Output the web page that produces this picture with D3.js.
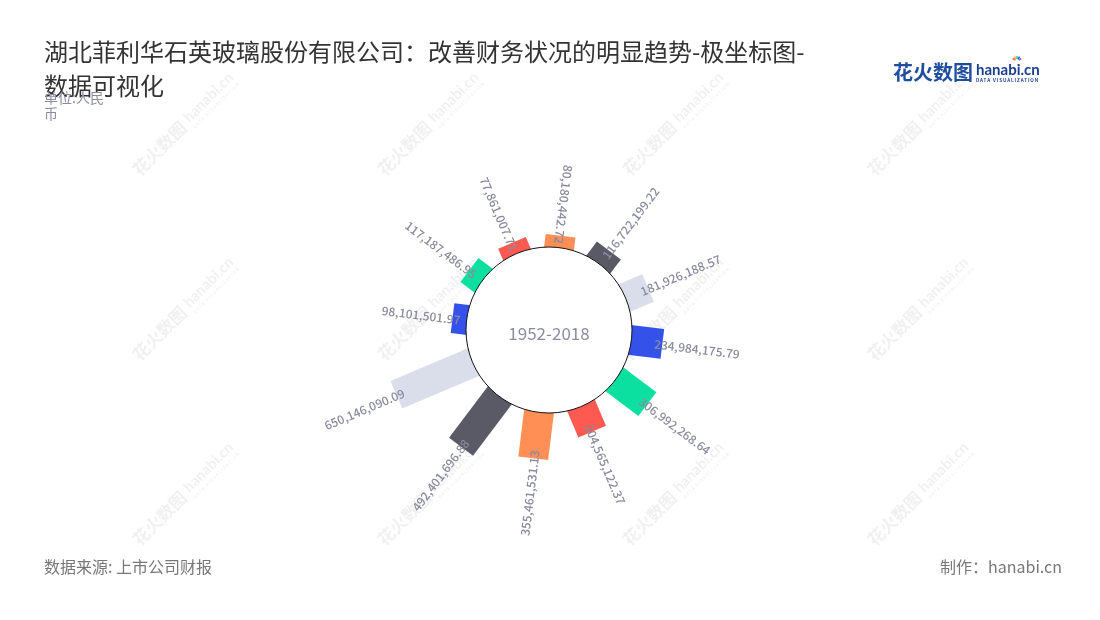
<!DOCTYPE html>
<html><head><meta charset="utf-8">
<script src="https://cdn.jsdelivr.net/npm/d3@7"></script>
<style>body{margin:0;background:#fff} svg{display:block;font-family:"Noto Sans CJK SC","Noto Sans",sans-serif}</style>
</head><body><svg id="c" width="1100" height="620"></svg>
<script>
// ---- data ----
const categories = ['1','2','3','4','5','6','7','8','9','10','11','12'];
const values = [77861007.71, 80180442.72, 116722199.22, 181926188.57, 234984175.79, 306992268.64,
                204565122.37, 355461531.13, 492401696.88, 650146090.09, 98101501.97, 117187486.95];
const palette = ['#FF5A52','#FF8F55','#5A5A66','#DADEEB','#3452EA','#0BE0A0'];
const centerLabel = '1952-2018';
const titleLines = ['湖北菲利华石英玻璃股份有限公司：改善财务状况的明显趋势-极坐标图-', '数据可视化'];
const unitLines = ['单位:人民', '币'];
const sourceText = '数据来源: 上市公司财报';
const makerText = '制作：hanabi.cn';

// ---- layout ----
const svg = d3.select('#c');
const cx = 549, cy = 330, innerR = 83;

// watermarks
const wm = svg.append('g').attr('opacity', 0.06);
[140, 385, 630, 875].forEach(x0 => {
  [177, 362, 547].forEach(y0 => {
    const g = wm.append('g').attr('transform', `translate(${x0},${y0}) rotate(-45)`);
    g.append('text').attr('font-size', 17).attr('font-weight', 700).attr('fill', '#000').text('花火数图');
    g.append('text').attr('x', 73).attr('y', -3).attr('font-size', 15).attr('font-weight', 700)
      .attr('font-family', 'Lato, sans-serif').attr('fill', '#000').text('hanabi.cn');
    g.append('text').attr('x', 73).attr('y', 5).attr('font-size', 4.5).attr('font-weight', 700)
      .attr('letter-spacing', 1).attr('fill', '#000').text('DATA VISUALIZATION');
  });
});

// scales
const angle = d3.scaleBand().domain(categories).range([-38, 322]);
const radius = d3.scaleLinear().domain([0, 700e6]).range([85, 172]);
const theta = c => angle(c) + angle.bandwidth() / 2;
const barW = 30;

const chart = svg.append('g').attr('transform', `translate(${cx},${cy})`);

// bars
chart.selectAll('rect.bar').data(categories).join('rect')
  .attr('class', 'bar')
  .attr('transform', c => `rotate(${theta(c)})`)
  .attr('x', -barW / 2)
  .attr('width', barW)
  .attr('y', (c, i) => -radius(values[i]))
  .attr('height', (c, i) => radius(values[i]) - 60)
  .attr('fill', (c, i) => palette[i % palette.length]);

// center circle
chart.append('circle').attr('r', innerR).attr('fill', '#fff').attr('stroke', '#111').attr('stroke-width', 1);

// labels
const fmt = d3.format(',.2f');
chart.selectAll('text.lab').data(categories).join('text')
  .attr('class', 'lab')
  .each(function (c, i) {
    const t = ((theta(c) % 360) + 360) % 360;
    const rl = radius(values[i]) - 8;
    const rad = t * Math.PI / 180;
    const px = rl * Math.sin(rad), py = -rl * Math.cos(rad);
    const flip = t >= 180 || t < 15;
    const rot = flip ? t - 270 : t - 90;
    d3.select(this)
      .attr('transform', `translate(${px},${py}) rotate(${rot})`)
      .attr('text-anchor', flip ? 'end' : 'start')
      .attr('dominant-baseline', 'central');
  })
  .attr('font-size', 12)
  .attr('font-weight', 500)
  .attr('fill', '#8A8A9E')
  .text((c, i) => fmt(values[i]));

chart.append('text').attr('y', 2).attr('text-anchor', 'middle').attr('dominant-baseline', 'central')
  .attr('font-size', 17).attr('fill', '#8C8CA0').text(centerLabel);

// title
const title = svg.append('text').attr('x', 44).attr('font-size', 24).attr('fill', '#333');
titleLines.forEach((l, i) => title.append('tspan').attr('x', 44).attr('y', 61 + i * 34).text(l));

// unit
const unit = svg.append('text').attr('font-size', 14).attr('fill', '#8C8CA0');
unitLines.forEach((l, i) => unit.append('tspan').attr('x', 44).attr('y', 103 + i * 16).text(l));

// footer
svg.append('text').attr('x', 44).attr('y', 573).attr('font-size', 16).attr('fill', '#777').text(sourceText);
svg.append('text').attr('x', 1062).attr('y', 573).attr('text-anchor', 'end').attr('font-size', 16).attr('fill', '#777').text(makerText);

// logo
const logo = svg.append('g');
logo.append('text').attr('x', 893).attr('y', 80).attr('font-size', 20).attr('font-weight', 700)
  .attr('fill', '#1F4E9E').text('花火数图');
logo.append('text').attr('x', 976).attr('y', 75).attr('font-size', 15).attr('font-weight', 700)
  .attr('font-family', 'Lato, sans-serif').attr('fill', '#1B3F8F').text('hanabi.cn');
logo.append('text').attr('x', 976).attr('y', 81.5).attr('font-size', 4.6).attr('font-weight', 700)
  .attr('letter-spacing', 0.9).attr('fill', '#1B3F8F').text('DATA VISUALIZATION');
['#FF5A52','#FFB400','#0BE0A0','#3452EA','#A05AEA'].forEach((col, k) => {
  const a = (-150 + k * 30) * Math.PI / 180;
  logo.append('line').attr('x1', 1017 + 2 * Math.cos(a)).attr('y1', 61 + 2 * Math.sin(a))
    .attr('x2', 1017 + 5 * Math.cos(a)).attr('y2', 61 + 5 * Math.sin(a))
    .attr('stroke', col).attr('stroke-width', 1.5);
});
</script>
</body></html>
